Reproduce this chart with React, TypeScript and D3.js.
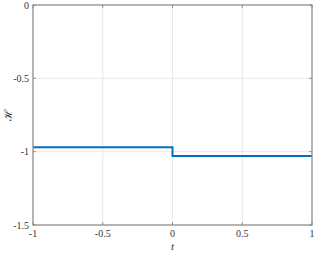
import React from "react";
import * as d3 from "d3";

const tSeries = [-1, 0, 0, 1];
const hSeries = [-0.97, -0.97, -1.03, -1.03];
const xTicks = [-1, -0.5, 0, 0.5, 1];
const yTicks = [0, -0.5, -1, -1.5];
const xTickLabels = ["-1", "-0.5", "0", "0.5", "1"];
const yTickLabels = ["0", "-0.5", "-1", "-1.5"];

const W = 315, H = 253;
const L = 33, R = 312, T = 5, B = 225;

export default function App() {
  const x = d3.scaleLinear().domain([-1, 1]).range([L, R]);
  const y = d3.scaleLinear().domain([-1.5, 0]).range([B, T]);
  const pts: [number, number][] = tSeries.map((t, i) => [t, hSeries[i]]);
  const line = d3.line<[number, number]>().x(d => x(d[0])).y(d => y(d[1]));
  const axisColor = "#8a8a8a";
  const font = "'Liberation Serif', 'DejaVu Serif', serif";
  const tl = 2.8;
  return (
    <svg width={W} height={H} style={{ position: "absolute", left: 0, top: 0, background: "#fff" }}>
      <rect x={0} y={0} width={W} height={H} fill="#fff" />
      {xTicks.map((v, i) => (
        <line key={"gx" + i} x1={x(v)} x2={x(v)} y1={T} y2={B} stroke="#e3e3e3" strokeWidth={0.8} />
      ))}
      {yTicks.map((v, i) => (
        <line key={"gy" + i} x1={L} x2={R} y1={y(v)} y2={y(v)} stroke="#e3e3e3" strokeWidth={0.8} />
      ))}
      <path d={line(pts) || ""} fill="none" stroke="#0072BD" strokeWidth={2} />
      <rect x={L} y={T} width={R - L} height={B - T} fill="none" stroke={axisColor} strokeWidth={1.2} />
      {xTicks.map((v, i) => (
        <g key={"tx" + i}>
          <line x1={x(v)} x2={x(v)} y1={B} y2={B - tl} stroke={axisColor} strokeWidth={1} />
          <line x1={x(v)} x2={x(v)} y1={T} y2={T + tl} stroke={axisColor} strokeWidth={1} />
          <text x={x(v)} y={237} textAnchor="middle" fontFamily={font} fontSize={10} fill="#333">{xTickLabels[i]}</text>
        </g>
      ))}
      {yTicks.map((v, i) => (
        <g key={"ty" + i}>
          <line x1={L} x2={L + tl} y1={y(v)} y2={y(v)} stroke={axisColor} strokeWidth={1} />
          <line x1={R} x2={R - tl} y1={y(v)} y2={y(v)} stroke={axisColor} strokeWidth={1} />
          <text x={29} y={y(v) + 3.5} textAnchor="end" fontFamily={font} fontSize={10} fill="#333">{yTickLabels[i]}</text>
        </g>
      ))}
      <text x={x(0)} y={250} textAnchor="middle" fontFamily={font} fontSize={11} fontStyle="italic" fill="#333">t</text>
      <text transform={`translate(12,${(T + B) / 2}) rotate(-90)`} textAnchor="middle" fontFamily={font} fontSize={11} fill="#333">ℋ</text>
    </svg>
  );
}
